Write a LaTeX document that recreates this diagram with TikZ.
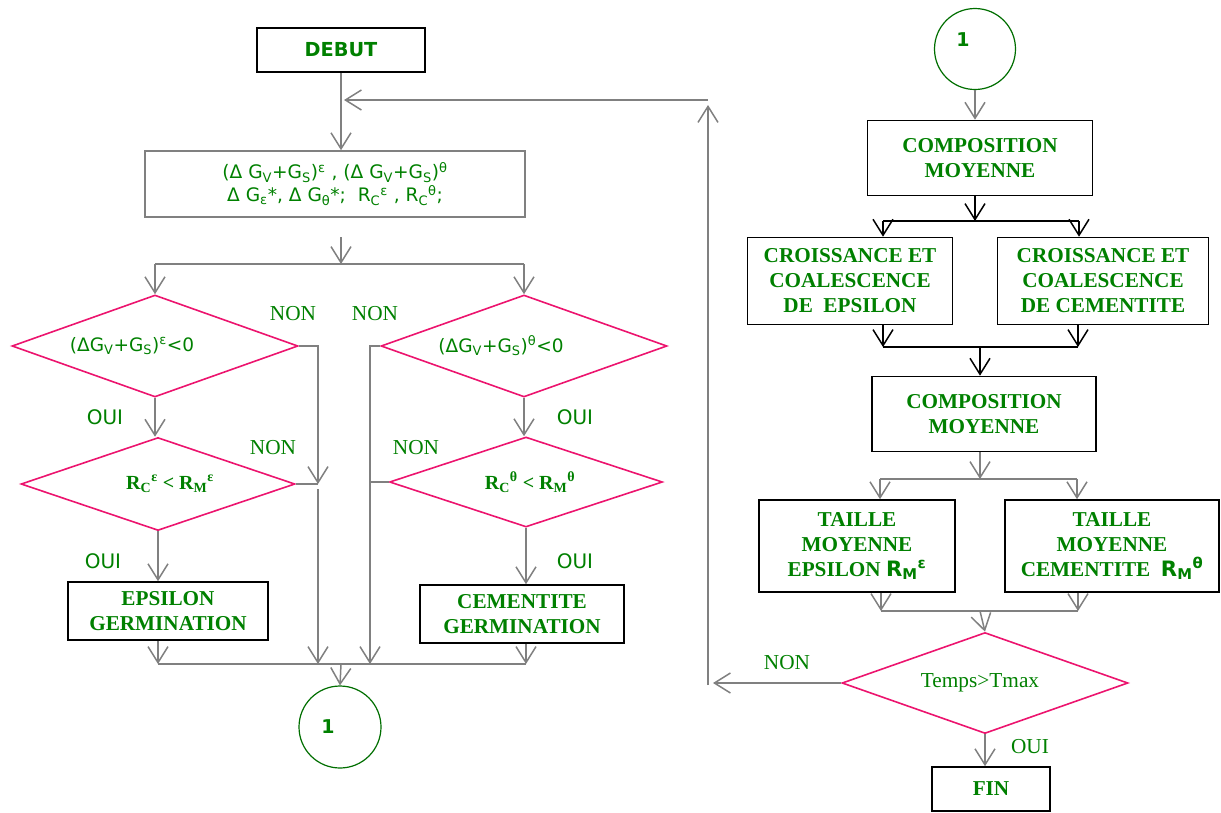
\documentclass[tikz,border=0pt]{standalone}
\usepackage{fontspec}
\setmainfont{Liberation Serif}
\setsansfont{DejaVu Sans}
\usepackage{tikz}
\usetikzlibrary{arrows.meta,shapes.geometric}
\usepackage{xcolor}
\definecolor{txtgreen}{RGB}{0,128,0}
\definecolor{ringgreen}{RGB}{0,110,0}
\definecolor{rosered}{RGB}{236,20,110}
\definecolor{linegray}{RGB}{128,128,128}

\begin{document}
\begin{tikzpicture}[x=1pt,y=-1pt,
    box/.style={draw=black,line width=1.6pt,align=center,text=txtgreen,
      font=\fontsize{21.2}{25}\selectfont\bfseries,inner sep=0pt},
    decision/.style={diamond,draw=rosered,line width=1.6pt,inner sep=0pt,
      text=txtgreen,align=center},
    ring/.style={circle,draw=ringgreen,line width=1.2pt,inner sep=0pt,
      minimum size=82pt},
    ringnum/.style={text=txtgreen,font=\fontsize{19}{22}\selectfont\sffamily\bfseries},
    lbl/.style={text=txtgreen,font=\fontsize{21.3}{24}\selectfont},
    slbl/.style={text=txtgreen,font=\fontsize{20}{24}\selectfont\sffamily},
    line/.style={draw=linegray,line width=1.5pt},
    flow/.style={line,-{Straight Barb[length=16pt,width=20pt]}},
    linek/.style={draw=black,line width=1.5pt},
    flowk/.style={linek,-{Straight Barb[length=16pt,width=20pt]}}
  ]
    \useasboundingbox (0,0) rectangle (1221,812);

    % left column
    \node[box,minimum width=168pt,minimum height=44pt,
      font=\fontsize{19.3}{22}\selectfont\sffamily\bfseries] (debut) at (341,50) {DEBUT};
    \node[box,draw=linegray,minimum width=380pt,minimum height=66pt,
      font=\fontsize{18.6}{23}\selectfont\sffamily] (gibbs) at (335,184) {
      (Δ G\textsubscript{V}+G\textsubscript{S})\textsuperscript{ε} , (Δ G\textsubscript{V}+G\textsubscript{S})\textsuperscript{θ}\\
      Δ G\textsubscript{ε}*, Δ G\textsubscript{θ}*;\ \ R\textsubscript{C}\textsuperscript{ε} , R\textsubscript{C}\textsuperscript{θ};};

    \node[decision,aspect=2.8,minimum width=286pt,minimum height=102pt,
      font=\fontsize{18.5}{22}\selectfont\sffamily] (epsq) at (155,346)
      {(ΔG\textsubscript{V}+G\textsubscript{S})\textsuperscript{ε}<0\hspace*{46pt}};
    \node[decision,aspect=2.8,minimum width=286pt,minimum height=102pt,
      font=\fontsize{18.5}{22}\selectfont\sffamily] (thq) at (524,346)
      {(ΔG\textsubscript{V}+G\textsubscript{S})\textsuperscript{θ}<0\hspace*{46pt}};
    \node[decision,aspect=2.95,minimum width=274pt,minimum height=93pt,
      font=\fontsize{20}{24}\selectfont\bfseries] (epsr) at (158,484)
      {\hspace*{24pt}R\textsubscript{C}\textsuperscript{ε} < R\textsubscript{M}\textsuperscript{ε}};
    \node[decision,aspect=3.03,minimum width=273pt,minimum height=90pt,
      font=\fontsize{20}{24}\selectfont\bfseries] (thr) at (526,482)
      {\hspace*{8pt}R\textsubscript{C}\textsuperscript{θ} < R\textsubscript{M}\textsuperscript{θ}};

    \node[box,minimum width=200pt,minimum height=58pt] (epsgerm) at (168,611)
      {EPSILON\\GERMINATION};
    \node[box,minimum width=204pt,minimum height=58pt] (thgerm) at (522,614)
      {CEMENTITE\\GERMINATION};
    \node[ring] (conn1) at (340,727) {};
    \node[ringnum] (conn1num) at (328,727) {1};

    \node[lbl] (non1) at (293,314) {NON};
    \node[lbl] (non2) at (375,314) {NON};
    \node[lbl] (non3) at (273,448) {NON};
    \node[lbl] (non4) at (416,448) {NON};
    \node[slbl] (oui1) at (105,417) {OUI};
    \node[slbl] (oui2) at (575,417) {OUI};
    \node[slbl] (oui3) at (103,561) {OUI};
    \node[slbl] (oui4) at (575,561) {OUI};

    \coordinate (gap) at (341,237);
    \coordinate (split) at (341,264);
    \coordinate (dropL) at (318,664);
    \coordinate (dropR) at (370,664);
    \coordinate (joinB) at (341,664);

    \draw[flow] (debut) -- (debut |- gibbs.north);
    \draw[flow] (gap) -- (split);
    \draw[line] (split -| epsq) -- (split -| thq);
    \draw[flow] (split -| epsq) -- (epsq.north);
    \draw[flow] (split -| thq) -- (thq.north);
    \draw[flow] (epsq.south) -- (epsq.south |- epsr.north);
    \draw[flow] (thq.south) -- (thq.south |- thr.north);
    \draw[flow] (epsq.east) -| (epsr.east -| dropL);
    \draw[line] (epsr.east) -- (epsr.east -| dropL);
    \draw[flow] ([yshift=-5pt]epsr.east -| dropL) -- (dropL);
    \draw[flow] (thq.west) -| (dropR);
    \draw[line] (thr.west) -- (thr.west -| dropR);
    \draw[flow] (epsr.south) -- (epsr.south |- epsgerm.north);
    \draw[flow] (thr.south) -- (thr.south |- thgerm.north);
    \draw[flow] (epsgerm.south -| epsr) -- (dropL -| epsr);
    \draw[flow] (thgerm.south -| thr) -- (dropR -| thr);
    \draw[line] (dropL -| epsr) -- (dropR -| thr);
    \draw[flow] (joinB) -- (conn1.north);

    % right column
    \node[ring,minimum size=81pt] (conn2) at (975,49) {};
    \node[ringnum] (conn2num) at (963,40) {1};
    \node[box,minimum width=225pt,minimum height=75pt] (comp1) at (980,158)
      {COMPOSITION\\MOYENNE};
    \node[box,minimum width=205pt,minimum height=87pt] (croisE) at (850,281)
      {CROISSANCE ET\\COALESCENCE\\DE\ \ EPSILON};
    \node[box,minimum width=211pt,minimum height=87pt] (croisC) at (1103,281)
      {CROISSANCE ET\\COALESCENCE\\DE CEMENTITE};
    \node[box,minimum width=224pt,minimum height=75pt] (comp2) at (984,414)
      {COMPOSITION\\MOYENNE};
    \node[box,minimum width=196pt,minimum height=92pt] (tailE) at (857,546)
      {TAILLE\\MOYENNE\\EPSILON {\sffamily R\textsubscript{M}\textsuperscript{ε}}};
    \node[box,minimum width=214pt,minimum height=92pt] (tailC) at (1112,546)
      {TAILLE\\MOYENNE\\CEMENTITE\ \ {\sffamily R\textsubscript{M}\textsuperscript{θ}}};
    \node[decision,aspect=2.83,minimum width=286pt,minimum height=101pt,
      font=\fontsize{21.3}{24}\selectfont] (tq) at (985,683) {Temps>Tmax\hspace*{10pt}};
    \node[box,minimum width=118pt,minimum height=44pt] (fin) at (991,789) {FIN};

    \node[lbl] (non5) at (787,663) {NON};
    \node[lbl] (oui5) at (1030,747) {OUI};

    \coordinate (split2) at (975,221);
    \coordinate (brA) at (883,221);
    \coordinate (brB) at (1079,221);
    \coordinate (mg) at (980,347);
    \coordinate (mgA) at (883,347);
    \coordinate (mgB) at (1078,347);
    \coordinate (sp3) at (980,479);
    \coordinate (sp3A) at (880,479);
    \coordinate (sp3B) at (1077,479);
    \coordinate (sp4) at (980,611);
    \coordinate (sp4A) at (881,611);
    \coordinate (sp4B) at (1078,611);
    \coordinate (backin) at (713,683);
    \coordinate (loopB) at (708,685);
    \coordinate (loopT) at (708,100);

    \draw[flow] (conn2.south) -- (conn2.south |- comp1.north);
    \draw[flowk] (comp1.south -| split2) -- (split2);
    \draw[linek] (brA) -- (brB);
    \draw[flowk] (brA) -- (brA |- croisE.north);
    \draw[flowk] (brB) -- (brB |- croisC.north);
    \draw[flowk] (mgA |- croisE.south) -- (mgA);
    \draw[flowk] (mgB |- croisC.south) -- (mgB);
    \draw[linek] (mgA) -- (mgB);
    \draw[flowk] (mg) -- (mg |- comp2.north);
    \draw[flow] (comp2.south -| sp3) -- (sp3);
    \draw[line] (sp3A) -- (sp3B);
    \draw[flow] (sp3A) -- (sp3A |- tailE.north);
    \draw[flow] (sp3B) -- (sp3B |- tailC.north);
    \draw[flow] (sp4A |- tailE.south) -- (sp4A);
    \draw[flow] (sp4B |- tailC.south) -- (sp4B);
    \draw[line] (sp4A) -- (sp4B);
    \draw[flow] (sp4) -- (tq.north);
    \draw[flow] (tq.south) -- (tq.south |- fin.north);
    \draw[flow] (tq.west) -- (backin);
    \draw[flow] (loopB) -- ([yshift=-5pt]loopT);
    \draw[flow] (loopT) -- ([xshift=3pt]loopT -| debut);
  \end{tikzpicture}
\end{document}
